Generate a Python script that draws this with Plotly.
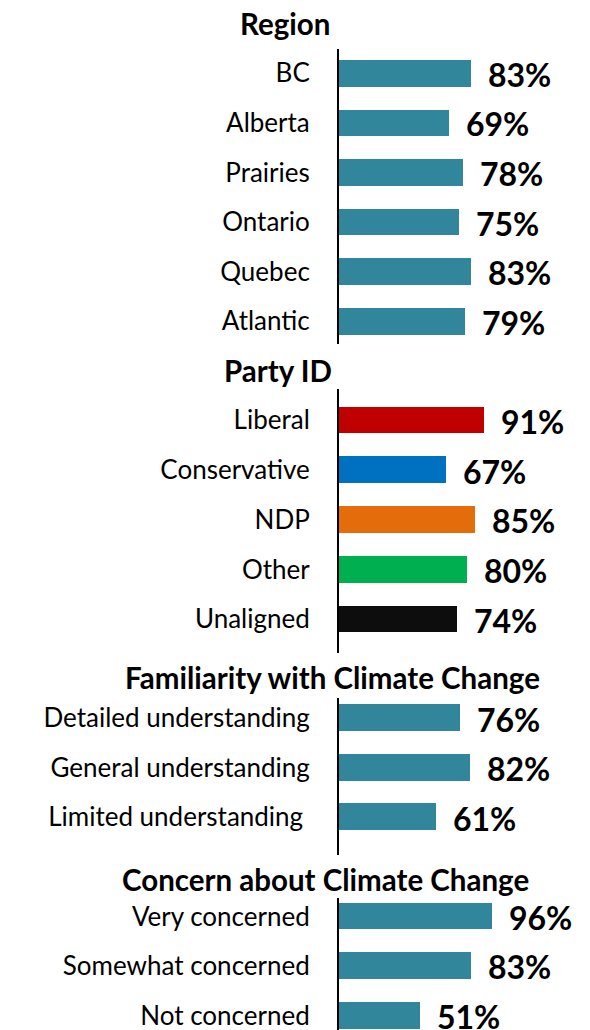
import plotly.graph_objects as go

# ---- data ----
region_cats = ["BC", "Alberta", "Prairies", "Ontario", "Quebec", "Atlantic"]
region_vals = [83, 69, 78, 75, 83, 79]

party_cats = ["Liberal", "Conservative", "NDP", "Other", "Unaligned"]
party_vals = [91, 67, 85, 80, 74]
party_colors = ["#C00000", "#0070C0", "#E46C0A", "#00B050", "#0D0D0D"]

famil_cats = ["Detailed understanding", "General understanding", "Limited understanding\u00a0"]
famil_vals = [76, 82, 61]

concern_cats = ["Very concerned", "Somewhat concerned", "Not concerned"]
concern_vals = [96, 83, 51]

titles = ["Region", "Party ID", "Familiarity with Climate Change", "Concern about Climate Change"]

TEAL = "#31869B"
W, H = 590, 1030
FONT = "Lato"

# layout geometry (pixels)
x0 = 339.0           # axis position
px_per_pct = 1.595
xmax = (W - x0) / px_per_pct

# (axis top px, axis bottom px, first center px, spacing px)
panels_geo = [
    (49.0, 344.3, 73.3, 49.6),
    (389.3, 653.3, 420.3, 49.75),
    (698.3, 855.0, 718.0, 49.5),
    (898.3, 1030.0, 916.4, 49.55),
]
title_pos = [(285, 23), (278, 370.5), (332, 677.5), (325.5, 879)]

panels = [
    (region_cats, region_vals, [TEAL] * len(region_vals)),
    (party_cats, party_vals, party_colors),
    (famil_cats, famil_vals, [TEAL] * len(famil_vals)),
    (concern_cats, concern_vals, [TEAL] * len(concern_vals)),
]

fig = go.Figure()
annotations = []
layout_axes = {}

for i, ((cats, vals, cols), (a, b, c0, s)) in enumerate(zip(panels, panels_geo)):
    n = i + 1
    xa = "x" if n == 1 else f"x{n}"
    ya = "y" if n == 1 else f"y{n}"
    fig.add_trace(go.Bar(
        x=vals, y=cats, orientation="h",
        marker=dict(color=cols, line=dict(width=0)),
        width=0.54, xaxis=xa, yaxis=ya, hoverinfo="skip", showlegend=False,
    ))
    xkey = "xaxis" if n == 1 else f"xaxis{n}"
    ykey = "yaxis" if n == 1 else f"yaxis{n}"
    layout_axes[xkey] = dict(
        domain=[x0 / W, 1], range=[0, xmax], visible=False, fixedrange=True,
        anchor=ya,
    )
    top = (a - c0) / s
    bot = (b - c0) / s
    layout_axes[ykey] = dict(
        domain=[1 - b / H, 1 - a / H], range=[bot, top],
        type="category", categoryorder="array", categoryarray=cats,
        showline=True, linecolor="#000000", linewidth=2,
        showgrid=False, zeroline=False, ticks="",
        ticklabelstandoff=22,
        tickfont=dict(family=FONT, size=26, color="#000000"),
        anchor=xa, fixedrange=True,
    )
    for c, v in zip(cats, vals):
        annotations.append(dict(
            x=v, y=c, xref=xa, yref=ya, text=f"{v}%", showarrow=False,
            xanchor="left", yanchor="middle", xshift=15, yshift=-1,
            font=dict(family=FONT, size=32, color="#000000", weight="bold"),
        ))
    tx, ty = title_pos[i]
    annotations.append(dict(
        x=tx / W, y=1 - ty / H, xref="paper", yref="paper", text=f"<b>{titles[i]}</b>",
        showarrow=False, xanchor="center", yanchor="middle",
        font=dict(family=FONT, size=29.5, color="#000000"),
    ))

fig.update_layout(
    width=W, height=H, margin=dict(l=0, r=0, t=0, b=0),
    paper_bgcolor="white", plot_bgcolor="white",
    annotations=annotations, bargap=0, **layout_axes,
)

fig.write_html(
    "out.html",
    config={"displayModeBar": False},
    post_script="document.body.style.margin='0';document.body.style.overflow='hidden';",
)
